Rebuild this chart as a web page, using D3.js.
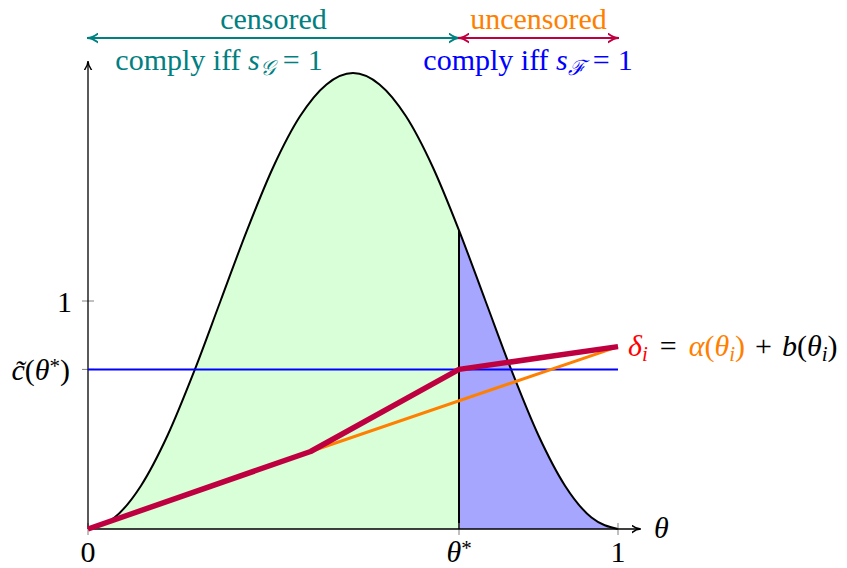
<!DOCTYPE html>
<html>
<head>
<meta charset="utf-8">
<script src="https://cdn.jsdelivr.net/npm/d3@7/dist/d3.min.js"></script>
<style>
  html, body { margin: 0; padding: 0; background: #fff; }
  svg { display: block; }
</style>
</head>
<body>
<svg id="chart" width="847" height="568"></svg>
<script>
// Density of types θ on [0,1]
const densityTheta = [0, 0.05, 0.10, 0.15, 0.20, 0.25, 0.30, 0.35, 0.40, 0.45, 0.50,
                      0.55, 0.60, 0.65, 0.70, 0.75, 0.80, 0.85, 0.90, 0.95, 1.00];
const densityValue = [0, 0.05, 0.19, 0.41, 0.69, 1.00, 1.31, 1.59, 1.81, 1.95, 2.00,
                      1.95, 1.81, 1.59, 1.31, 1.00, 0.69, 0.41, 0.19, 0.05, 0];

// Threshold type and compliance cost
const thetaStar = 0.70;
const costAtStar = 0.70;

// α(θ) (orange) and δ = α + b (red), piecewise linear
const alphaTheta = [0, 0.42, 1];
const alphaValue = [0, 0.34, 0.80];
const deltaTheta = [0, 0.42, 0.70, 1];
const deltaValue = [0, 0.34, 0.70, 0.80];

// Tick labels
const yTickValues = [1, costAtStar];
const xTickValues = [0, thetaStar, 1];

const FONT = '"Liberation Serif"';

const svg = d3.select("#chart");
const x = d3.scaleLinear().domain([0, 1]).range([88, 618]);
const y = d3.scaleLinear().domain([0, 2]).range([529, 73]);

const C = {
  teal: "rgb(0,128,128)",
  purple: "rgb(191,0,64)",
  orange: "rgb(255,128,0)",
  blue: "rgb(0,0,255)",
  red: "rgb(255,0,0)",
  green15: "rgb(217,255,217)",
  blue35: "rgb(166,166,255)"
};

const defs = svg.append("defs");
function marker(id, color, size) {
  defs.append("marker")
    .attr("id", id).attr("viewBox", "0 0 10 10")
    .attr("refX", 9).attr("refY", 5)
    .attr("markerWidth", size).attr("markerHeight", size)
    .attr("markerUnits", "userSpaceOnUse")
    .attr("orient", "auto-start-reverse")
    .append("path").attr("d", "M0,1 Q5,5 10,5 Q5,5 0,9")
    .attr("fill", "none").attr("stroke", color).attr("stroke-width", 1.6)
    .attr("stroke-linecap", "round");
}
marker("arrBlack", "#000", 9);
marker("arrTeal", C.teal, 11);
marker("arrPurple", C.purple, 11);

const pts = densityTheta.map((t, i) => [t, densityValue[i]]);
const leftPts = pts.filter(p => p[0] <= thetaStar);
const rightPts = pts.filter(p => p[0] >= thetaStar);

const area = d3.area().x(d => x(d[0])).y0(y(0)).y1(d => y(d[1])).curve(d3.curveMonotoneX);
const line = d3.line().x(d => x(d[0])).y(d => y(d[1])).curve(d3.curveMonotoneX);

svg.append("path").datum(leftPts).attr("d", area).attr("fill", C.green15);
svg.append("path").datum(rightPts).attr("d", area).attr("fill", C.blue35);
svg.append("path").datum(pts).attr("d", line)
  .attr("fill", "none").attr("stroke", "#000").attr("stroke-width", 2);

// vertical at θ*
const densAtStar = densityValue[densityTheta.indexOf(thetaStar)];
svg.append("line")
  .attr("x1", x(thetaStar)).attr("x2", x(thetaStar))
  .attr("y1", y(0)).attr("y2", y(densAtStar))
  .attr("stroke", "#000").attr("stroke-width", 2);

// ticks
const tickG = svg.append("g").attr("stroke", "#808080").attr("stroke-width", 1);
yTickValues.forEach(v => tickG.append("line")
  .attr("x1", x(0) - 6).attr("x2", x(0) + 6).attr("y1", y(v)).attr("y2", y(v)));
xTickValues.forEach(v => tickG.append("line")
  .attr("x1", x(v)).attr("x2", x(v)).attr("y1", y(0) - 6).attr("y2", y(0) + 6));

// axes
svg.append("line").attr("x1", x(0)).attr("x2", 640).attr("y1", y(0)).attr("y2", y(0))
  .attr("stroke", "#000").attr("stroke-width", 1.3).attr("marker-end", "url(#arrBlack)");
svg.append("line").attr("x1", x(0)).attr("x2", x(0)).attr("y1", y(0)).attr("y2", 62)
  .attr("stroke", "#000").attr("stroke-width", 1.3).attr("marker-end", "url(#arrBlack)");

// cost level
svg.append("line").attr("x1", x(0)).attr("x2", x(1))
  .attr("y1", y(costAtStar)).attr("y2", y(costAtStar))
  .attr("stroke", C.blue).attr("stroke-width", 2);

// α and δ
const pl = d3.line().x(d => x(d[0])).y(d => y(d[1]));
svg.append("path").datum(alphaTheta.map((t, i) => [t, alphaValue[i]])).attr("d", pl)
  .attr("fill", "none").attr("stroke", C.orange).attr("stroke-width", 3);
svg.append("path").datum(deltaTheta.map((t, i) => [t, deltaValue[i]])).attr("d", pl)
  .attr("fill", "none").attr("stroke", C.purple).attr("stroke-width", 5.5)
  .attr("stroke-linejoin", "round");

// labels
const fs = 30;
function tx(xp, yp, anchor, color) {
  return svg.append("text").attr("x", xp).attr("y", yp).attr("text-anchor", anchor)
    .style("font-family", FONT).style("font-size", fs + "px")
    .attr("fill", color || "#000");
}
function span(t, s, o) {
  o = o || {};
  const sp = t.append("tspan").text(s);
  if (o.it) sp.style("font-style", "italic");
  if (o.fill) sp.attr("fill", o.fill);
  if (o.dx) sp.attr("dx", o.dx);
  if (o.sub) sp.attr("baseline-shift", "-25%").style("font-size", (fs * 0.7) + "px");
  if (o.sup) sp.attr("baseline-shift", "35%").style("font-size", (fs * 0.7) + "px");
  return sp;
}

// x labels
tx(x(0), 562, "middle").text("0");
const ts = tx(x(thetaStar), 562, "middle");
span(ts, "θ", { it: true }); span(ts, "*", { sup: true });
tx(x(1), 562, "middle").text("1");
span(tx(654, 538, "start"), "θ", { it: true });

// y labels
tx(72, 312, "end").text("1");
const cl = tx(70, 380, "end");
span(cl, "c̃", { it: true }); span(cl, "("); span(cl, "θ", { it: true });
span(cl, "*", { sup: true }); span(cl, ")");

// δ label
const dl = tx(628, 356, "start");
span(dl, "δ", { it: true, fill: C.red }); span(dl, "i", { it: true, sub: true, fill: C.red });
span(dl, "=", { dx: 12 });
span(dl, "α", { it: true, fill: C.orange, dx: 12 }); span(dl, "(", { fill: C.orange });
span(dl, "θ", { it: true, fill: C.orange }); span(dl, "i", { it: true, sub: true, fill: C.orange });
span(dl, ")", { fill: C.orange });
span(dl, "+", { dx: 10 });
span(dl, "b", { it: true, dx: 10 }); span(dl, "("); span(dl, "θ", { it: true });
span(dl, "i", { it: true, sub: true }); span(dl, ")");

// regime brackets
svg.append("line").attr("x1", x(0)).attr("x2", x(thetaStar)).attr("y1", 38).attr("y2", 38)
  .attr("stroke", C.teal).attr("stroke-width", 2)
  .attr("marker-start", "url(#arrTeal)").attr("marker-end", "url(#arrTeal)");
svg.append("line").attr("x1", x(thetaStar)).attr("x2", x(1)).attr("y1", 38).attr("y2", 38)
  .attr("stroke", C.purple).attr("stroke-width", 2)
  .attr("marker-start", "url(#arrPurple)").attr("marker-end", "url(#arrPurple)");

tx((x(0) + x(thetaStar)) / 2, 29, "middle", C.teal).text("censored");
tx((x(thetaStar) + x(1)) / 2, 29, "middle", C.orange).text("uncensored");

const g1 = tx(219, 70, "middle", C.teal);
span(g1, "comply iff "); span(g1, "s", { it: true });
span(g1, "𝒢", { it: true, sub: true }); span(g1, "=", { dx: 8 }); span(g1, "1", { dx: 8 });

const g2 = tx(528, 70, "middle", C.blue);
span(g2, "comply iff "); span(g2, "s", { it: true });
span(g2, "ℱ", { it: true, sub: true }); span(g2, "=", { dx: 8 }); span(g2, "1", { dx: 8 });
</script>
</body>
</html>
